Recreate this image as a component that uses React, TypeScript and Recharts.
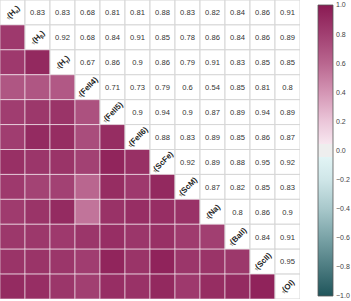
import React from 'react';
import { ScatterChart, Scatter, XAxis, YAxis, ReferenceArea, BarChart, Bar } from 'recharts';

// diagonal labels: [name, subscript]
const LABELS: [string, string][] = [
  ['H', 'α'], ['H', 'β'], ['H', 'γ'], ['FeII4', ''], ['FeII5', ''], ['FeII6', ''],
  ['ScFe', ''], ['ScM', ''], ['Na', ''], ['BaII', ''], ['ScII', ''], ['OI', ''],
];

// upper triangle, row by row (col > row)
const UPPER: number[][] = [
  [0.83, 0.83, 0.68, 0.81, 0.81, 0.88, 0.83, 0.82, 0.84, 0.86, 0.91],
  [0.92, 0.68, 0.84, 0.91, 0.85, 0.78, 0.86, 0.84, 0.86, 0.89],
  [0.67, 0.86, 0.9, 0.86, 0.79, 0.91, 0.83, 0.85, 0.85],
  [0.71, 0.73, 0.79, 0.6, 0.54, 0.85, 0.81, 0.8],
  [0.9, 0.94, 0.9, 0.87, 0.89, 0.94, 0.89],
  [0.88, 0.83, 0.89, 0.85, 0.86, 0.87],
  [0.92, 0.89, 0.88, 0.95, 0.92],
  [0.87, 0.82, 0.85, 0.83],
  [0.8, 0.86, 0.9],
  [0.84, 0.91],
  [0.95],
];

const CBAR_TICKS = [1, 0.8, 0.6, 0.4, 0.2, 0, -0.2, -0.4, -0.6, -0.8, -1];

// colormap stops, top (1) to bottom (-1)
const CMAP: [number, string][] = [
  [1, '#8a1a53'], [0.8, '#a13f71'], [0.6, '#b9668f'], [0.4, '#d495b4'],
  [0.2, '#ebc6d9'], [0.045, '#f7e6ef'], [0.045, '#eeeeee'], [-0.045, '#eeeeee'],
  [-0.045, '#e2f4f5'], [-0.2, '#cfe6e8'], [-0.4, '#a8c8cb'], [-0.6, '#7aa3a7'],
  [-0.8, '#4d7c81'], [-1, '#1f555b'],
];

const N = LABELS.length;
const GRID_W = 300;
const GRID_H = 299;
const CW = GRID_W / N;
const CH = GRID_H / N;

function hexRgb(h: string) {
  const n = parseInt(h.slice(1), 16);
  return [(n >> 16) & 255, (n >> 8) & 255, n & 255];
}

function colorFor(v: number) {
  for (let k = 0; k < CMAP.length - 1; k++) {
    const [v0, c0] = CMAP[k];
    const [v1, c1] = CMAP[k + 1];
    if (v <= v0 && v >= v1) {
      const t = v0 === v1 ? 0 : (v0 - v) / (v0 - v1);
      const a = hexRgb(c0), b = hexRgb(c1);
      const m = a.map((x, i) => Math.round(x + (b[i] - x) * t));
      return `rgb(${m[0]},${m[1]},${m[2]})`;
    }
  }
  return CMAP[CMAP.length - 1][1];
}

function corr(i: number, j: number) {
  if (i === j) return 1;
  const r = Math.min(i, j), c = Math.max(i, j);
  return UPPER[r][c - r - 1];
}

const cells: { x: number; y: number; i: number; j: number; v: number }[] = [];
for (let i = 0; i < N; i++) {
  for (let j = 0; j < N; j++) {
    cells.push({ x: j + 0.5, y: i + 0.5, i, j, v: corr(i, j) });
  }
}

const CellShape = (props: any) => {
  const { cx, cy, payload } = props;
  const { i, j, v } = payload;
  const x = cx - CW / 2, y = cy - CH / 2;
  if (i > j) {
    return (
      <rect x={x} y={y} width={CW} height={CH} fill={colorFor(v)}
        stroke="rgba(255,255,255,0.55)" strokeWidth={1} />
    );
  }
  if (i < j) {
    return (
      <g>
        <rect x={x} y={y} width={CW} height={CH} fill="#fff" stroke="#d6d6d6" strokeWidth={1} />
        <text x={cx} y={cy + 2.8} textAnchor="middle" fontSize={7.6} fill="#333"
          fontFamily="Liberation Sans, Arial, sans-serif">
          {String(v)}
        </text>
      </g>
    );
  }
  const [name, sub] = LABELS[i];
  return (
    <g>
      <rect x={x} y={y} width={CW} height={CH} fill="#fff" stroke="#d6d6d6" strokeWidth={1} />
      <text x={cx} y={cy + 2.7} textAnchor="middle" fontSize={7.9} fontWeight="bold" fill="#222"
        fontFamily="Liberation Sans, Arial, sans-serif" transform={`rotate(-45 ${cx} ${cy})`}>
        <tspan fontSize={5} fontWeight="normal">τ</tspan>
        <tspan>({name}</tspan>
        {sub ? <tspan fontSize={5} dy={1.5}>{sub}</tspan> : null}
        {sub ? <tspan dy={-1.5}>)</tspan> : <tspan>)</tspan>}
      </text>
    </g>
  );
};

const cbarData = [{ name: 'cbar', range: [-1, 1] }];

export default function App() {
  return (
    <div style={{ position: 'absolute', left: 0, top: 0, width: 351, height: 301, background: '#fff' }}>
      <div style={{ position: 'absolute', left: 0, top: 0 }}>
        <ScatterChart width={GRID_W} height={GRID_H} margin={{ top: 0, right: 0, bottom: 0, left: 0 }}>
          <XAxis type="number" dataKey="x" domain={[0, N]} hide />
          <YAxis type="number" dataKey="y" domain={[0, N]} reversed hide />
          <Scatter data={cells} shape={CellShape} isAnimationActive={false} />
          <ReferenceArea x1={0} x2={N} y1={0} y2={N} fill="none" stroke="#333" strokeWidth={1.5}
            ifOverflow="visible" />
        </ScatterChart>
      </div>
      <div style={{ position: 'absolute', left: 300, top: 0 }}>
        <BarChart width={51} height={301} data={cbarData} barCategoryGap={0}
          margin={{ top: 5, right: 0, bottom: 5, left: 18 }}>
          <defs>
            <linearGradient id="cbarGrad" x1="0" y1="0" x2="0" y2="1">
              {CMAP.map(([v, c], k) => (
                <stop key={k} offset={(1 - v) / 2} stopColor={c} />
              ))}
            </linearGradient>
          </defs>
          <XAxis dataKey="name" hide />
          <YAxis orientation="right" type="number" domain={[-1, 1]} ticks={CBAR_TICKS} width={18}
            axisLine={false} tickLine={false} tickSize={0} tickMargin={3} interval={0}
            tick={{ fontSize: 7, fill: '#444', fontFamily: 'Liberation Sans, Arial, sans-serif' }}
            tickFormatter={(v: number) => (v < 0 ? '\u2212' + Math.abs(v).toFixed(1) : v.toFixed(1))} />
          <Bar dataKey="range" fill="url(#cbarGrad)" stroke="#555" strokeWidth={0.8}
            isAnimationActive={false} />
        </BarChart>
      </div>
    </div>
  );
}
